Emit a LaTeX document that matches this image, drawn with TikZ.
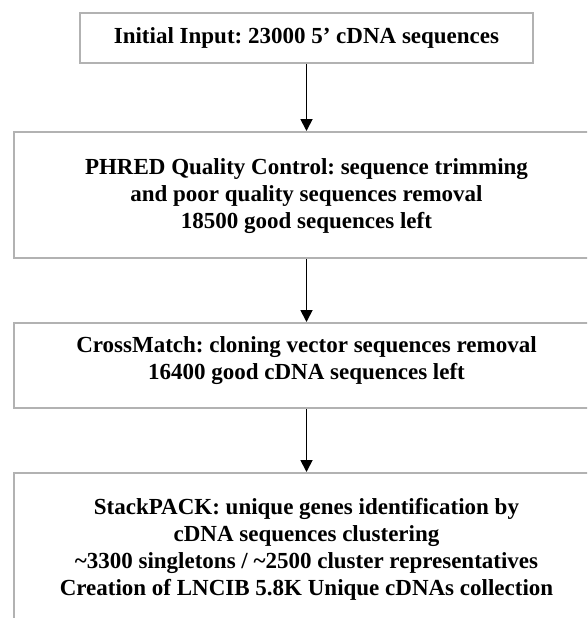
\documentclass[tikz,border=0pt]{standalone}
\usepackage{fontspec}
\setmainfont{Liberation Serif}
\frenchspacing
\usetikzlibrary{arrows.meta}

\tikzset{
  stage/.style={draw=gray!60, line width=2pt, rectangle, inner sep=0pt},
  txt/.style={align=center, font=\bfseries\fontsize{23}{27}\selectfont},
  flow/.style={-{Triangle[width=12pt,length=12pt]}, line width=1.8pt},
}

\begin{document}
\begin{tikzpicture}[x=1pt,y=-1pt]
      \useasboundingbox (0,0) rectangle (587,618);
      \clip             (0,0) rectangle (587,618);

      % initial input
      \node[stage, txt, minimum width=453, minimum height=50] (b1) at (306.5,38) {Initial Input: 23000 5’ cDNA sequences};

      % PHRED
      \node[stage, anchor=north west, minimum width=640, minimum height=126] (b2) at (12.5,131) {};
      \node[txt]        (t2) at (306.5,196) {PHRED Quality Control: sequence trimming\\and poor quality sequences removal\\18500 good sequences left};

      % CrossMatch
      \node[stage, anchor=north west, minimum width=640, minimum height=85] (b3) at (12.5,322) {};
      \node[txt]        (t3) at (306.5,361) {CrossMatch: cloning vector sequences removal\\16400 good cDNA sequences left};

      % StackPACK
      \node[stage, anchor=north west, minimum width=640, minimum height=200] (b4) at (12.5,472) {};
      \node[txt]        (t4) at (306.5,549) {StackPACK: unique genes identification by\\cDNA sequences clustering\\\textasciitilde3300 singletons / \textasciitilde2500 cluster representatives\\Creation of LNCIB 5.8K Unique cDNAs collection};

      % arrows
      \draw[flow]       (b1.south) -- (b1.south |- b2.north);
      \draw[flow]       (t2 |- b2.south) -- (t2 |- b3.north);
      \draw[flow]       (t3 |- b3.south) -- (t3 |- b4.north);
\end{tikzpicture}
\end{document}
